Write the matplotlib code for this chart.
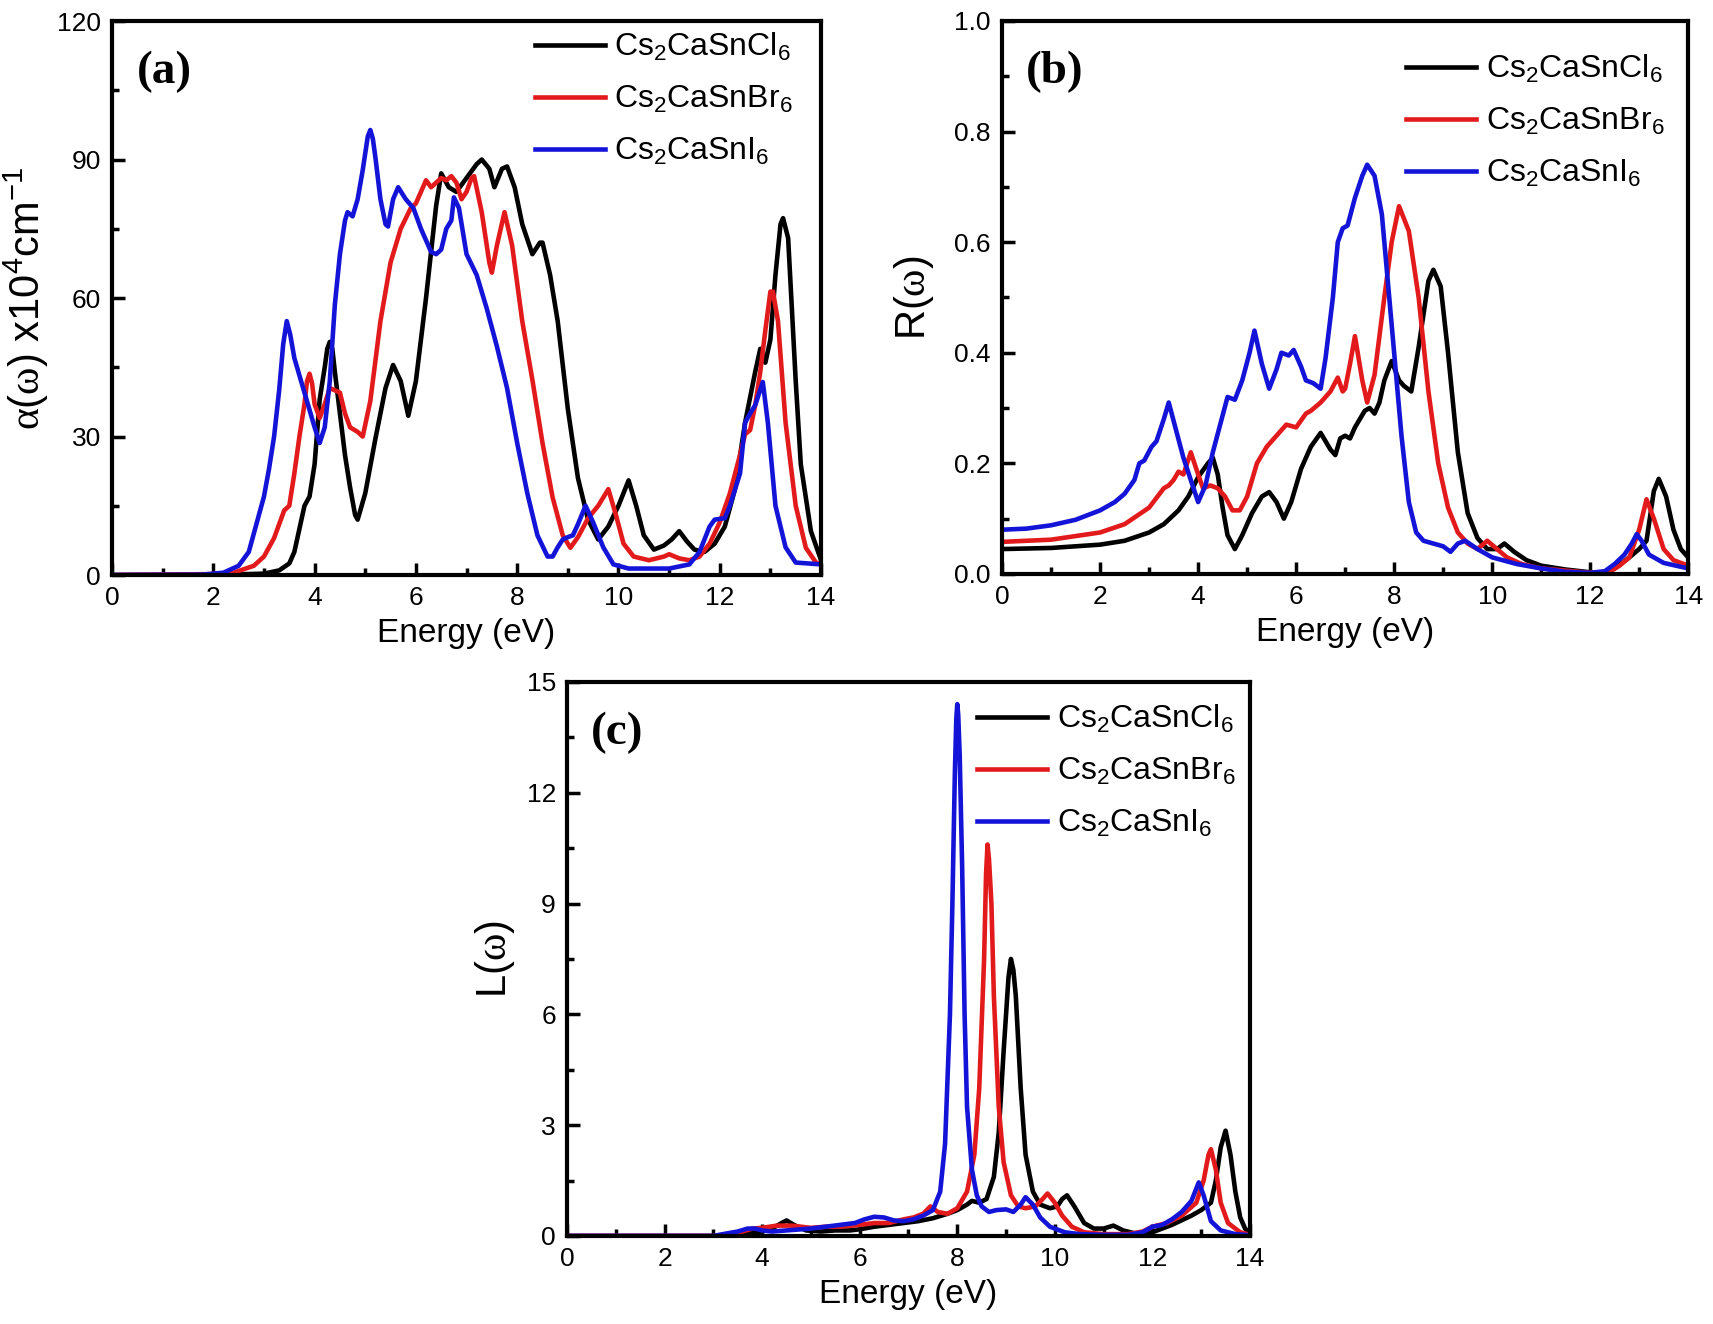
import matplotlib
matplotlib.use("Agg")
import matplotlib.pyplot as plt
from matplotlib.ticker import MultipleLocator

plt.rcParams['font.family'] = ['Liberation Sans', 'DejaVu Sans']
plt.rcParams['mathtext.fontset'] = 'custom'
plt.rcParams['mathtext.rm'] = 'Liberation Serif'  # greek letters in the y labels
plt.rcParams['mathtext.it'] = 'Liberation Serif:italic'
plt.rcParams['mathtext.default'] = 'regular'

labels = ['Cs$_2$CaSnCl$_6$', 'Cs$_2$CaSnBr$_6$', 'Cs$_2$CaSnI$_6$']
colors = ['#000000', '#e31a1c', '#1414d8']

# ---- (a) absorption coefficient, x10^4 cm^-1 ----
a_cl_x = [0, 2.0, 3.0, 3.3, 3.5, 3.6, 3.8, 3.9, 4.0, 4.1, 4.2, 4.25, 4.3, 4.35, 4.4, 4.5, 4.6, 4.7, 4.8, 4.85, 5.0,
          5.2, 5.4, 5.55, 5.7, 5.85, 6.0, 6.2, 6.4, 6.5, 6.65, 6.8, 7.0, 7.2, 7.3, 7.45, 7.55, 7.7, 7.8, 7.95, 8.1,
          8.3, 8.45, 8.5, 8.65, 8.8, 9.0, 9.2, 9.4, 9.6, 9.8, 10.0, 10.2, 10.35, 10.5, 10.7, 10.9, 11.05, 11.2,
          11.35, 11.5, 11.7, 11.9, 12.1, 12.3, 12.5, 12.7, 12.8, 12.9, 13.0, 13.1, 13.2, 13.25, 13.35, 13.5, 13.6,
          13.8, 14.0]
a_cl_y = [0, 0, 0.3, 1.0, 2.5, 5, 15, 17, 24, 38, 45, 49, 50.5, 49, 44, 35, 26, 19, 13, 12, 17.7,
          29.5, 40.5, 45.5, 42, 34.5, 42, 60, 80, 87, 84, 83, 86, 89, 90, 88, 84, 88, 88.5, 84, 76,
          69.5, 72, 72, 65, 55, 36, 21, 12, 7.7, 10.5, 15, 20.5, 15, 8.6, 5.5, 6.4, 7.7, 9.5,
          7.3, 5.5, 5, 6.8, 10.5, 18.6, 33, 44, 49, 46, 51, 65, 76, 77.3, 73, 42, 24,
          9.5, 3.2]

a_br_x = [0, 2.0, 2.4, 2.8, 3.0, 3.2, 3.4, 3.5, 3.6, 3.7, 3.8, 3.85, 3.9, 3.95, 4.0, 4.1, 4.2, 4.3, 4.4, 4.5, 4.6,
          4.7, 4.85, 4.95, 5.1, 5.3, 5.5, 5.7, 5.9, 6.0, 6.1, 6.2, 6.3, 6.4, 6.5, 6.6, 6.7, 6.8, 6.9, 7.0, 7.1,
          7.15, 7.3, 7.45, 7.5, 7.6, 7.75, 7.9, 8.1, 8.3, 8.5, 8.7, 8.9, 9.05, 9.2, 9.4, 9.6, 9.8, 9.95, 10.1,
          10.3, 10.6, 10.9, 11.0, 11.2, 11.4, 11.6, 11.8, 12.0, 12.2, 12.4, 12.5, 12.6, 12.7, 12.8, 12.9, 13.0,
          13.05, 13.15, 13.3, 13.5, 13.7, 13.9, 14.0]
a_br_y = [0, 0.2, 0.5, 2, 4, 8, 14, 15, 22, 30, 37, 42, 43.6, 41.5, 37, 34, 37, 40.5, 40, 39.5, 35,
          32, 31, 30, 37.7, 55, 67.7, 75, 79.5, 80.5, 83, 85.5, 84, 85, 86, 85.5, 86.4, 85, 81.4, 83, 86,
          86.4, 78.6, 67.7, 65.5, 71.4, 78.6, 71.4, 55, 42.3, 28.6, 16.8, 8.6, 5.9, 8.2, 12.3, 15, 18.6, 13, 6.8,
          4, 3.2, 4, 4.5, 3.6, 3.2, 4, 6.8, 11.4, 17.7, 26, 30.5, 31.4, 36.8, 44, 53, 61.4,
          61.4, 55, 33, 15, 5.9, 2.7, 2.3]

a_i_x = [0, 1.8, 2.2, 2.5, 2.7, 2.8, 2.9, 3.0, 3.1, 3.2, 3.3, 3.38, 3.45, 3.52, 3.6, 3.8, 4.0, 4.1, 4.2, 4.3, 4.4,
         4.5, 4.6, 4.65, 4.75, 4.85, 4.95, 5.05, 5.1, 5.15, 5.2, 5.3, 5.4, 5.45, 5.55, 5.65, 5.8, 5.95, 6.1, 6.3,
         6.4, 6.5, 6.6, 6.7, 6.75, 6.85, 7.0, 7.2, 7.4, 7.6, 7.8, 8.0, 8.2, 8.4, 8.6, 8.7, 8.8, 8.9, 9.0, 9.1,
         9.2, 9.35, 9.5, 9.7, 9.9, 10.2, 11.0, 11.4, 11.6, 11.8, 11.9, 12.1, 12.2, 12.4, 12.5, 12.6, 12.7,
         12.85, 12.95, 13.1, 13.3, 13.5, 14.0]
a_i_y = [0, 0.1, 0.5, 2, 5, 9, 13, 17, 23, 30, 40, 50, 55, 52, 47, 39.5, 32, 28.6, 32, 42, 58.6,
         69.5, 76.8, 78.6, 77.7, 81.4, 87.7, 95, 96.4, 94.5, 90.5, 81.4, 76, 75.5, 81.4, 84, 81.4, 79.5, 75, 70,
         69.5, 70.5, 75, 76.8, 81.8, 79.5, 69.5, 65, 57.7, 49.5, 40.5, 28.6, 17.7, 8.6, 4, 4, 6, 7.7, 8.2, 8.6,
         11, 15, 11.4, 6, 2.3, 1.4, 1.4, 2.3, 5, 10.5, 12, 12.3, 15, 22, 33, 35, 36.8,
         41.8, 33, 15, 6, 2.7, 2.3]

# ---- (b) reflectivity ----
b_cl_x = [0, 1, 2, 2.5, 3.0, 3.3, 3.6, 3.8, 4.0, 4.2, 4.3, 4.4, 4.5, 4.6, 4.75, 4.9, 5.1, 5.3, 5.45, 5.6, 5.75,
          5.9, 6.1, 6.3, 6.5, 6.7, 6.8, 6.9, 7.0, 7.1, 7.2, 7.4, 7.5, 7.6, 7.7, 7.8, 7.95, 8.1, 8.2, 8.35, 8.5,
          8.7, 8.8, 8.95, 9.1, 9.3, 9.5, 9.7, 9.9, 10.1, 10.25, 10.45, 10.7, 11.0, 11.5, 12.0, 12.3, 12.5, 12.8,
          13.0, 13.15, 13.3, 13.4, 13.55, 13.7, 13.85, 14.0]
b_cl_y = [0.045, 0.047, 0.053, 0.06, 0.075, 0.09, 0.115, 0.14, 0.175, 0.2, 0.21, 0.18, 0.12, 0.07, 0.045, 0.07,
          0.11, 0.14, 0.148, 0.13, 0.1, 0.13, 0.19, 0.23, 0.255, 0.225, 0.215, 0.245, 0.25, 0.245, 0.265, 0.295,
          0.3, 0.29, 0.31, 0.35, 0.385, 0.35, 0.34, 0.33, 0.41, 0.53, 0.55, 0.52, 0.4, 0.22, 0.11, 0.065, 0.045,
          0.045, 0.055, 0.04, 0.025, 0.015, 0.008, 0.003, 0.003, 0.01, 0.03, 0.045, 0.06, 0.15, 0.172, 0.14,
          0.08, 0.045, 0.03]

b_br_x = [0, 1, 2, 2.5, 3.0, 3.3, 3.4, 3.5, 3.6, 3.7, 3.85, 4.0, 4.1, 4.25, 4.4, 4.55, 4.7, 4.85, 5.0, 5.2, 5.4,
          5.6, 5.8, 6.0, 6.2, 6.3, 6.5, 6.7, 6.85, 6.95, 7.0, 7.1, 7.2, 7.35, 7.45, 7.6, 7.8, 7.95, 8.1, 8.3,
          8.5, 8.7, 8.9, 9.1, 9.3, 9.5, 9.7, 9.9, 10.1, 10.3, 10.6, 11.0, 11.5, 12.0, 12.4, 12.6, 12.8, 13.0,
          13.15, 13.3, 13.5, 13.7, 14.0]
b_br_y = [0.058, 0.062, 0.075, 0.09, 0.12, 0.155, 0.16, 0.17, 0.185, 0.18, 0.22, 0.18, 0.155, 0.16, 0.155,
          0.14, 0.115, 0.115, 0.14, 0.2, 0.23, 0.25, 0.27, 0.265, 0.29, 0.295, 0.31, 0.33, 0.355, 0.33, 0.335,
          0.38, 0.43, 0.35, 0.31, 0.36, 0.5, 0.6, 0.665, 0.62, 0.5, 0.33, 0.2, 0.12, 0.075, 0.055, 0.045, 0.06,
          0.045, 0.03, 0.018, 0.01, 0.006, 0.002, 0.004, 0.015, 0.03, 0.08, 0.135, 0.1, 0.045, 0.025, 0.015]

b_i_x = [0, 0.5, 1, 1.5, 2.0, 2.3, 2.5, 2.7, 2.8, 2.9, 3.05, 3.15, 3.3, 3.4, 3.55, 3.7, 3.85, 4.0, 4.15, 4.3,
         4.45, 4.6, 4.75, 4.9, 5.05, 5.15, 5.3, 5.45, 5.6, 5.7, 5.85, 5.95, 6.1, 6.2, 6.35, 6.5, 6.6, 6.75, 6.85,
         6.95, 7.05, 7.2, 7.35, 7.45, 7.6, 7.75, 7.85, 8.0, 8.15, 8.3, 8.45, 8.6, 8.8, 9.0, 9.15, 9.3, 9.45, 9.7,
         10.0, 10.5, 11.0, 11.5, 12.0, 12.3, 12.5, 12.7, 12.85, 12.95, 13.05, 13.2, 13.5, 14.0]
b_i_y = [0.08, 0.082, 0.088, 0.098, 0.115, 0.13, 0.145, 0.17, 0.2, 0.205, 0.23, 0.24, 0.28, 0.31, 0.26, 0.21,
         0.17, 0.13, 0.16, 0.22, 0.27, 0.32, 0.315, 0.35, 0.4, 0.44, 0.38, 0.335, 0.37, 0.4, 0.395, 0.405, 0.375,
         0.35, 0.345, 0.335, 0.39, 0.5, 0.6, 0.625, 0.63, 0.68, 0.72, 0.74, 0.72, 0.65, 0.55, 0.4, 0.25, 0.13,
         0.075, 0.06, 0.055, 0.05, 0.04, 0.055, 0.06, 0.045, 0.03, 0.018, 0.01, 0.004, 0.002, 0.005, 0.018, 0.035,
         0.055, 0.072, 0.06, 0.035, 0.02, 0.01]

# ---- (c) energy loss ----
c_cl_x = [0, 3.0, 3.3, 3.7, 4.0, 4.2, 4.4, 4.5, 4.65, 4.9, 5.2, 5.5, 5.8, 6.0, 6.3, 6.6, 6.9, 7.2, 7.5, 7.8, 8.0,
          8.2, 8.3, 8.45, 8.6, 8.75, 8.85, 8.95, 9.05, 9.1, 9.15, 9.2, 9.3, 9.4, 9.55, 9.7, 9.9, 10.05, 10.15,
          10.25, 10.4, 10.6, 10.8, 11.0, 11.2, 11.4, 11.7, 12.0, 12.4, 12.8, 13.0, 13.2, 13.3, 13.4, 13.5, 13.6,
          13.7, 13.8, 13.9, 14.0]
c_cl_y = [0, 0, 0.02, 0.08, 0.12, 0.2, 0.35, 0.42, 0.3, 0.15, 0.12, 0.15, 0.15, 0.18, 0.25, 0.3, 0.35, 0.4, 0.48,
          0.6, 0.7, 0.85, 0.95, 0.9, 1.0, 1.6, 2.8, 5.0, 7.0, 7.5, 7.2, 6.5, 4.0, 2.2, 1.2, 0.85, 0.75, 0.8, 1.0,
          1.1, 0.8, 0.35, 0.2, 0.2, 0.28, 0.15, 0.05, 0.1, 0.3, 0.55, 0.7, 0.9, 1.5, 2.4, 2.85, 2.2,
          1.2, 0.5, 0.2, 0.08]

c_br_x = [0, 3.0, 3.3, 3.6, 3.8, 4.0, 4.3, 4.6, 4.8, 5.0, 5.3, 5.6, 6.0, 6.3, 6.6, 6.9, 7.1, 7.3, 7.45, 7.6, 7.8,
          8.0, 8.2, 8.35, 8.45, 8.55, 8.59, 8.62, 8.65, 8.7, 8.75, 8.85, 8.95, 9.1, 9.25, 9.4, 9.6, 9.75, 9.85,
          10.0, 10.15, 10.35, 10.6, 11.0, 11.5, 11.8, 12.0, 12.3, 12.6, 12.9, 13.05, 13.15, 13.2, 13.3, 13.4,
          13.55, 13.8, 14.0]
c_br_y = [0, 0, 0.05, 0.12, 0.2, 0.22, 0.28, 0.28, 0.25, 0.22, 0.25, 0.25, 0.3, 0.35, 0.35, 0.45, 0.5, 0.6, 0.8,
          0.65, 0.6, 0.75, 1.2, 2.2, 4.0, 7.5, 9.8, 10.6, 10.2, 9.0, 6.5, 3.5, 2.0, 1.1, 0.8, 0.75, 0.8, 1.0, 1.15,
          0.9, 0.55, 0.25, 0.1, 0.05, 0.05, 0.12, 0.25, 0.35, 0.55, 0.9, 1.5, 2.2, 2.35, 1.8, 0.9,
          0.35, 0.1, 0.03]

c_i_x = [0, 3.0, 3.2, 3.5, 3.7, 3.85, 4.0, 4.2, 4.5, 4.8, 5.0, 5.3, 5.6, 5.9, 6.1, 6.3, 6.5, 6.7, 6.9, 7.1, 7.3,
         7.5, 7.65, 7.75, 7.85, 7.9, 7.95, 7.98, 8.0, 8.02, 8.05, 8.1, 8.15, 8.2, 8.3, 8.4, 8.5, 8.65, 8.8, 9.0,
         9.15, 9.3, 9.4, 9.55, 9.7, 9.9, 10.2, 10.5, 11.0, 11.5, 11.8, 12.0, 12.2, 12.4, 12.6, 12.8, 12.95,
         13.05, 13.2, 13.4, 13.7, 14.0]
c_i_y = [0, 0, 0.05, 0.12, 0.2, 0.2, 0.15, 0.12, 0.15, 0.18, 0.2, 0.25, 0.3, 0.35, 0.45, 0.52, 0.5, 0.42, 0.4,
         0.45, 0.55, 0.7, 1.2, 2.5, 6.0, 9.0, 12.5, 14.0, 14.4, 14.1, 13.0, 10.0, 6.0, 3.5, 1.8, 1.1, 0.8, 0.65,
         0.7, 0.72, 0.65, 0.85, 1.05, 0.85, 0.5, 0.25, 0.1, 0.05, 0.03, 0.03, 0.1, 0.25, 0.3, 0.45, 0.65, 0.95,
         1.45, 1.1, 0.4, 0.15, 0.05, 0.02]

panels = [
    dict(tag='(a)', ylabel=r'$\mathrm{\alpha}$($\mathrm{\omega}$) x10$^4$cm$^{-1}$', ymax=120, ymajor=30,
         yminor=15, fmt='{:.0f}', series=[(a_cl_x, a_cl_y), (a_br_x, a_br_y), (a_i_x, a_i_y)],
         rect=[0.0654, 0.5657, 0.4139, 0.4184], leg=(0.992, 1.022), ypad=4),
    dict(tag='(b)', ylabel=r'R($\mathrm{\omega}$)', ymax=1.0, ymajor=0.2, yminor=0.1,
         fmt='{:.1f}', series=[(b_cl_x, b_cl_y), (b_br_x, b_br_y), (b_i_x, b_i_y)],
         rect=[0.5850, 0.5665, 0.4005, 0.4177], leg=(0.998, 0.982), ypad=13),
    dict(tag='(c)', ylabel=r'L($\mathrm{\omega}$)', ymax=15, ymajor=3, yminor=1.5,
         fmt='{:.0f}', series=[(c_cl_x, c_cl_y), (c_br_x, c_br_y), (c_i_x, c_i_y)],
         rect=[0.3310, 0.0665, 0.3987, 0.4184], leg=(1.011, 1.002), ypad=7),
]

fig = plt.figure(figsize=(17.13, 13.24), dpi=100)

for p in panels:
    ax = fig.add_axes(p['rect'])
    for (x, y), c, lab in zip(p['series'], colors, labels):
        ax.plot(x, y, color=c, lw=3.3, label=lab, solid_joinstyle='round')
    ax.set_xlim(0, 14)
    ax.set_ylim(0, p['ymax'])
    ax.xaxis.set_major_locator(MultipleLocator(2))
    ax.xaxis.set_minor_locator(MultipleLocator(1))
    ax.yaxis.set_major_locator(MultipleLocator(p['ymajor']))
    ax.yaxis.set_minor_locator(MultipleLocator(p['yminor']))
    ax.yaxis.set_major_formatter(plt.FuncFormatter(lambda v, pos, f=p['fmt']: f.format(v)))
    ax.tick_params(which='major', direction='in', length=9, width=2.5, labelsize=19, pad=8)
    ax.tick_params(which='minor', direction='in', length=5, width=2.5)
    for s in ax.spines.values():
        s.set_linewidth(3)
    ax.set_xlabel('Energy (eV)', fontsize=24, labelpad=6)
    ax.set_ylabel(p['ylabel'], fontsize=30, labelpad=p['ypad'])
    ax.text(0.035, 0.908, p['tag'], transform=ax.transAxes, fontsize=34, fontweight='bold',
            family='Liberation Serif', va='center', ha='left')
    ax.legend(loc='upper right', bbox_to_anchor=p['leg'], frameon=False, fontsize=23, handlelength=2.2,
              handletextpad=0.3, labelspacing=0.65, borderaxespad=0.3)

fig.savefig('out.png', dpi=100)
